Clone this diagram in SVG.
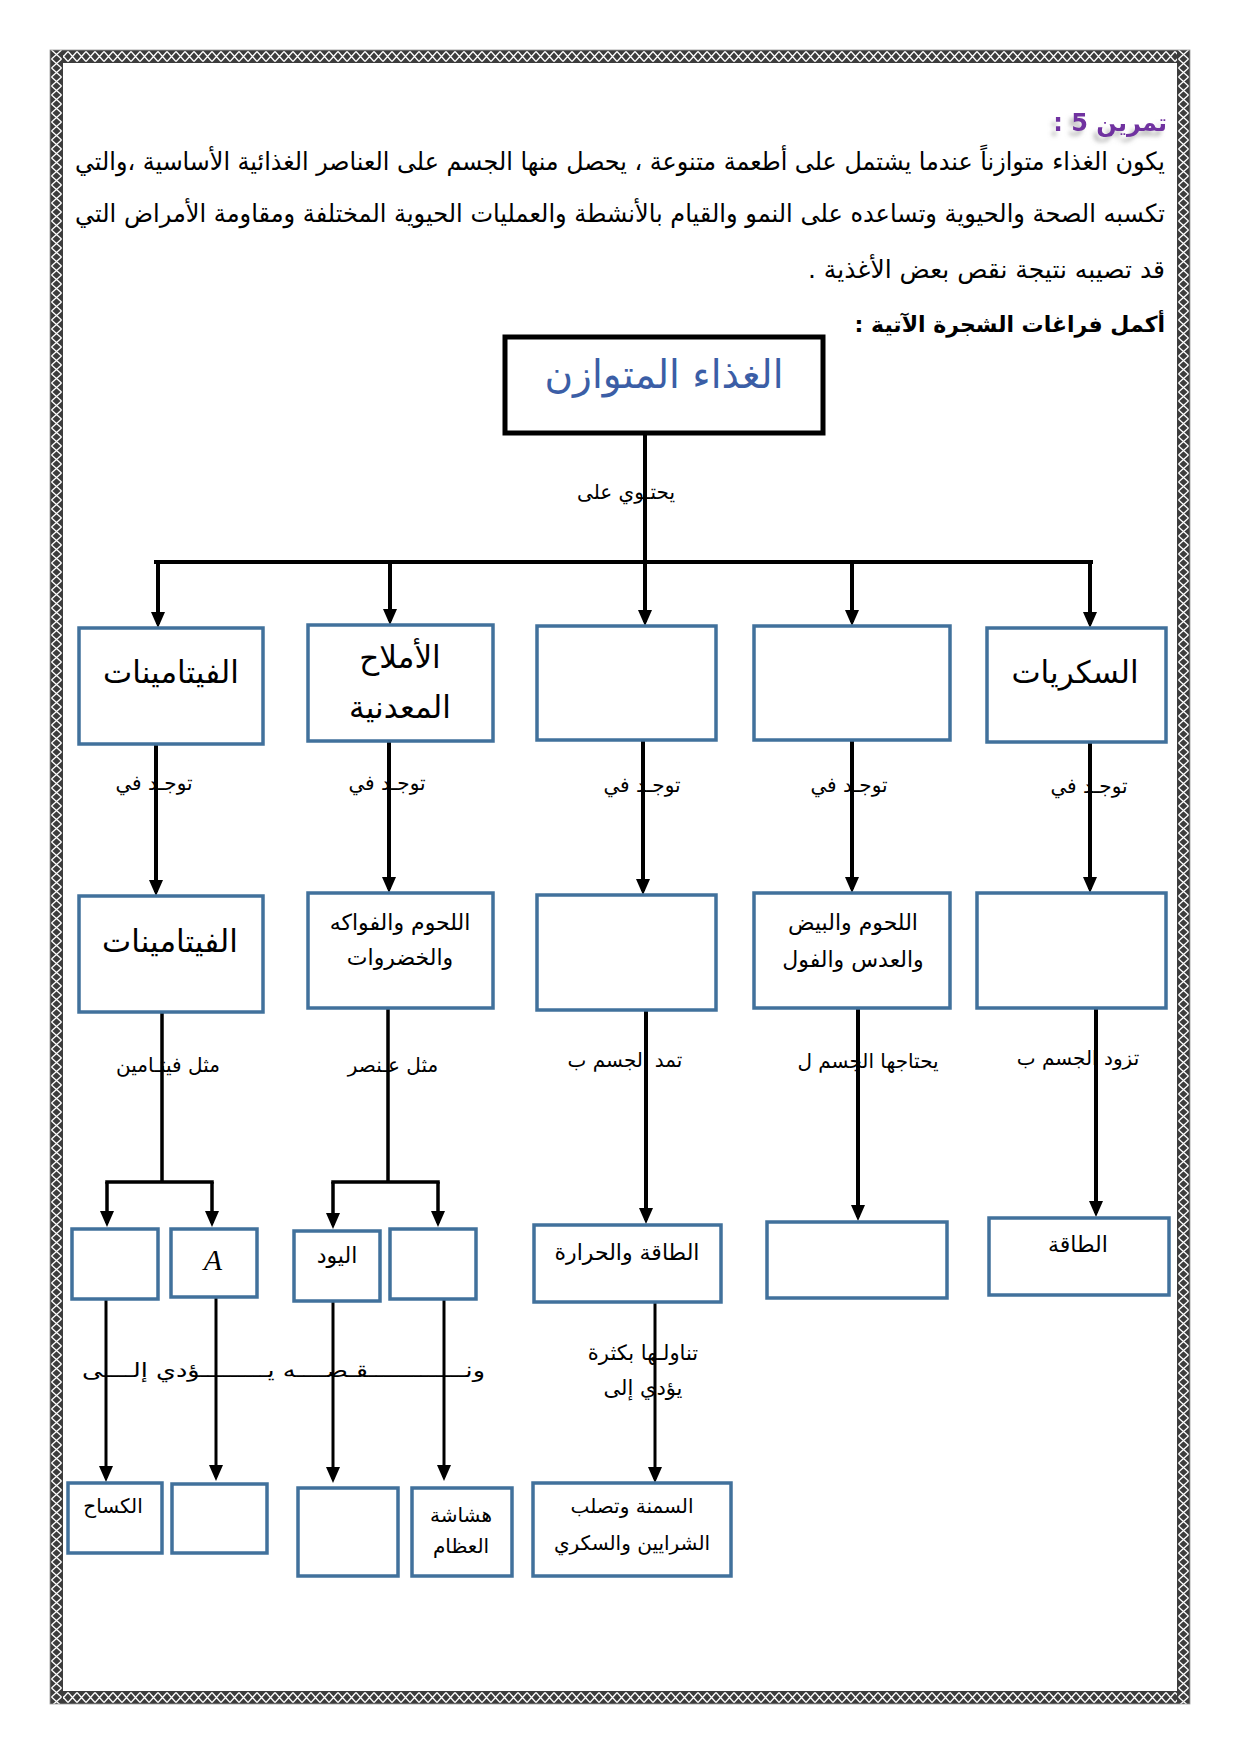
<svg xmlns="http://www.w3.org/2000/svg" width="1240" height="1754" viewBox="0 0 1240 1754">
<style>
.box{fill:#fff;stroke:#41719C;stroke-width:3.5}
.ar{font-family:"DejaVu Sans","Liberation Sans",sans-serif;direction:rtl;fill:#000}
.c{stroke:#000;stroke-width:4;fill:none;stroke-linecap:square}
.ca{stroke:#000;stroke-width:4;fill:none;marker-end:url(#ah)}
.cb{stroke:#000;stroke-width:3;fill:none;marker-end:url(#ah)}
.lbl{font-size:20px;text-anchor:middle}
.big{font-size:31px;text-anchor:middle}
.mid{font-size:22px;text-anchor:middle}
.sm{font-size:20px;text-anchor:middle}
</style>
<defs>
<pattern id="patH" patternUnits="userSpaceOnUse" width="9" height="13">
<rect width="9" height="13" fill="#3c3c3c"/>
<path d="M0,1.5 L4.5,6.5 L9,1.5 M0,11.5 L4.5,6.5 L9,11.5" stroke="#fff" stroke-width="1.3" fill="none"/>
</pattern>
<pattern id="patV" patternUnits="userSpaceOnUse" width="13" height="9">
<rect width="13" height="9" fill="#3c3c3c"/>
<path d="M1.5,0 L6.5,4.5 L1.5,9 M11.5,0 L6.5,4.5 L11.5,9" stroke="#fff" stroke-width="1.3" fill="none"/>
</pattern>
<marker id="ah" markerUnits="userSpaceOnUse" viewBox="0 0 16 14" markerWidth="16" markerHeight="14" refX="12" refY="7" orient="auto">
<path d="M0,0 L16,7 L0,14 Z" fill="#000"/>
</marker>
<filter id="sh" x="-20%" y="-20%" width="140%" height="160%">
<feDropShadow dx="-4" dy="5" stdDeviation="2" flood-color="#888" flood-opacity="0.55"/>
</filter>
</defs>
<rect width="1240" height="1754" fill="#fff"/>
<g id="page-border">
<g transform="translate(50,50)"><rect width="1140" height="13" fill="url(#patH)"/></g>
<g transform="translate(50,1691)"><rect width="1140" height="13" fill="url(#patH)"/></g>
<g transform="translate(50,50)"><rect width="13" height="1654" fill="url(#patV)"/></g>
<g transform="translate(1177,50)"><rect width="13" height="1654" fill="url(#patV)"/></g>
<rect x="50" y="50" width="1140" height="1654" fill="none" stroke="#999" stroke-width="0.8"/>
</g>
<g id="intro">
<text class="ar" x="1167" y="131" font-size="24" font-weight="bold" style="fill:#7030A0" filter="url(#sh)">تمرين 5 :</text>
<text class="ar" x="1165" y="170" font-size="25" textLength="1090" lengthAdjust="spacingAndGlyphs">يكون الغذاء متوازناً عندما يشتمل على أطعمة متنوعة ، يحصل منها الجسم على العناصر الغذائية الأساسية ،والتي</text>
<text class="ar" x="1165" y="222" font-size="25" textLength="1090" lengthAdjust="spacingAndGlyphs">تكسبه الصحة والحيوية وتساعده على النمو والقيام بالأنشطة والعمليات الحيوية المختلفة ومقاومة الأمراض التي</text>
<text class="ar" x="1165" y="278" font-size="25">قد تصيبه نتيجة نقص بعض الأغذية .</text>
<text class="ar" x="1165" y="332" font-size="22" font-weight="bold">أكمل فراغات الشجرة الآتية :</text>
</g>
<g id="connectors">
<text class="ar lbl" x="626" y="499">يحتـوي على</text>
<text class="ar lbl" x="154" y="790">توجـد في</text>
<text class="ar lbl" x="387" y="790">توجـد في</text>
<text class="ar lbl" x="642" y="792">توجـد في</text>
<text class="ar lbl" x="849" y="792">توجـد في</text>
<text class="ar lbl" x="1089" y="793">توجـد في</text>
<text class="ar lbl" x="168" y="1072">مثل فيتـامين</text>
<text class="ar lbl" x="393" y="1072">مثل عـنصر</text>
<text class="ar lbl" x="625" y="1067">تمد الجسم ب</text>
<text class="ar lbl" x="868" y="1068">يحتاجها الجسم ل</text>
<text class="ar lbl" x="1078" y="1065">تزود الجسم ب</text>
<text class="ar lbl" x="485" y="1377" style="text-anchor:start" textLength="403" lengthAdjust="spacingAndGlyphs">ونـــــــــــــقـصــــه يـــــــــؤدي إلــــى</text>
<text class="ar lbl" x="643" y="1360" style="font-size:21px">تناولـها بكثرة</text>
<text class="ar lbl" x="643" y="1395" style="font-size:21px">يؤدي إلى</text>
<path class="c" d="M645,433 V562 M156,562 H1091"/>
<path class="ca" d="M158,562 V624"/>
<path class="ca" d="M390,562 V621"/>
<path class="ca" d="M645,562 V622"/>
<path class="ca" d="M852,562 V622"/>
<path class="ca" d="M1090,562 V624"/>
<path class="ca" d="M156,744 V892"/>
<path class="ca" d="M389,741 V889"/>
<path class="ca" d="M643,740 V891"/>
<path class="ca" d="M852,740 V889"/>
<path class="ca" d="M1090,742 V889"/>
<path class="c" d="M162,1012 V1182 M107,1182 H212 M388,1008 V1182 M333,1182 H438" style="stroke-width:3.5"/>
<path class="ca" d="M107,1182 V1223" style="stroke-width:3.5"/>
<path class="ca" d="M212,1182 V1223" style="stroke-width:3.5"/>
<path class="ca" d="M333,1182 V1225" style="stroke-width:3.5"/>
<path class="ca" d="M438,1182 V1223" style="stroke-width:3.5"/>
<path class="ca" d="M646,1010 V1220"/>
<path class="ca" d="M858,1008 V1217"/>
<path class="ca" d="M1096,1008 V1213"/>
<path class="cb" d="M106,1299 V1478"/>
<path class="cb" d="M216,1297 V1477"/>
<path class="cb" d="M333,1301 V1479"/>
<path class="cb" d="M444,1299 V1477"/>
<path class="cb" d="M655,1302 V1479"/>
</g>
<g id="root">
<rect x="505" y="337" width="318" height="96" fill="#fff" stroke="#000" stroke-width="5"/>
<text class="ar" x="664" y="388" font-size="39" text-anchor="middle" style="fill:#3B5EA6">الغذاء المتوازن</text>
</g>
<g id="n-vitamins"><rect class="box" x="79" y="628" width="184" height="116"/><text class="ar big" x="171" y="683">الفيتامينات</text></g>
<g id="n-minerals"><rect class="box" x="308" y="625" width="185" height="116"/><text class="ar big" x="400" y="668">الأملاح</text><text class="ar big" x="400" y="718">المعدنية</text></g>
<g id="n-blank1"><rect class="box" x="537" y="626" width="179" height="114"/></g>
<g id="n-blank2"><rect class="box" x="754" y="626" width="196" height="114"/></g>
<g id="n-sugars"><rect class="box" x="987" y="628" width="179" height="114"/><text class="ar big" x="1075" y="683">السكريات</text></g>
<g id="n-vit-src"><rect class="box" x="79" y="896" width="184" height="116"/><text class="ar big" x="170" y="952">الفيتامينات</text></g>
<g id="n-min-src"><rect class="box" x="308" y="893" width="185" height="115"/><text class="ar mid" x="400" y="930">اللحوم والفواكه</text><text class="ar mid" x="400" y="965">والخضروات</text></g>
<g id="n-blank3"><rect class="box" x="537" y="895" width="179" height="115"/></g>
<g id="n-prot-src"><rect class="box" x="754" y="893" width="196" height="115"/><text class="ar mid" x="853" y="930">اللحوم والبيض</text><text class="ar mid" x="853" y="967">والعدس والفول</text></g>
<g id="n-blank4"><rect class="box" x="977" y="893" width="189" height="115"/></g>
<g id="n-blank5"><rect class="box" x="72" y="1229" width="86" height="70"/></g>
<g id="n-vitA"><rect class="box" x="171" y="1229" width="86" height="68"/><text x="213" y="1270" font-family="'Liberation Serif',serif" font-style="italic" font-size="30" text-anchor="middle">A</text></g>
<g id="n-iodine"><rect class="box" x="294" y="1231" width="86" height="70"/><text class="ar mid" x="337" y="1263">اليود</text></g>
<g id="n-blank6"><rect class="box" x="390" y="1229" width="86" height="70"/></g>
<g id="n-energy-heat"><rect class="box" x="534" y="1225" width="187" height="77"/><text class="ar mid" x="627" y="1260">الطاقة والحرارة</text></g>
<g id="n-blank7"><rect class="box" x="767" y="1222" width="180" height="76"/></g>
<g id="n-energy"><rect class="box" x="989" y="1218" width="180" height="77"/><text class="ar mid" x="1078" y="1252">الطاقة</text></g>
<g id="n-rickets"><rect class="box" x="68" y="1483" width="94" height="70"/><text class="ar sm" x="113" y="1513">الكساح</text></g>
<g id="n-blank8"><rect class="box" x="172" y="1484" width="95" height="69"/></g>
<g id="n-blank9"><rect class="box" x="298" y="1488" width="100" height="88"/></g>
<g id="n-osteo"><rect class="box" x="412" y="1488" width="100" height="88"/><text class="ar sm" x="461" y="1522">هشاشة</text><text class="ar sm" x="461" y="1553">العظام</text></g>
<g id="n-obesity"><rect class="box" x="533" y="1483" width="198" height="93"/><text class="ar sm" x="632" y="1513">السمنة وتصلب</text><text class="ar sm" x="632" y="1550">الشرايين والسكري</text></g>
</svg>
